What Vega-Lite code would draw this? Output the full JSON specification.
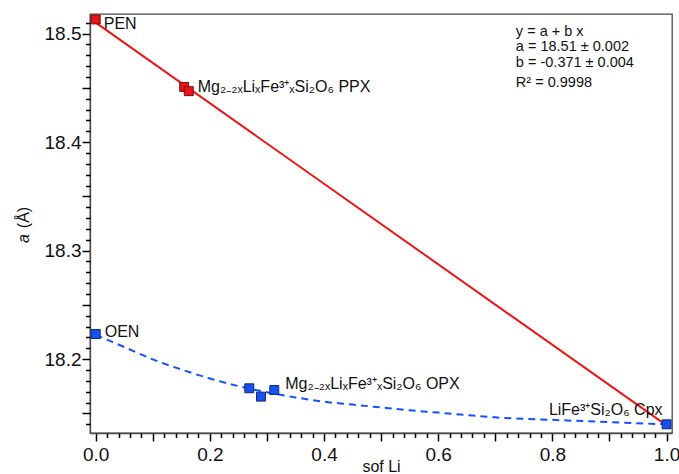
{
  "$schema": "https://vega.github.io/schema/vega-lite/v6.json",
  "width": 582,
  "height": 419,
  "autosize": {"type": "none"},
  "padding": {"left": 90, "top": 14, "right": 7, "bottom": 41},
  "config": {
    "view": {"stroke": "#4a4a4a", "strokeWidth": 1.3},
    "font": "Liberation Sans"
  },
  "datasets": {
    "ppx": [
      {"sof_li": 0.0, "a": 18.513, "phase": "PEN"},
      {"sof_li": 0.155, "a": 18.4508, "phase": "PPX"},
      {"sof_li": 0.163, "a": 18.4469, "phase": "PPX"}
    ],
    "opx": [
      {"sof_li": 0.0, "a": 18.2232, "phase": "OEN"},
      {"sof_li": 0.269, "a": 18.1732, "phase": "OPX"},
      {"sof_li": 0.2895, "a": 18.1655, "phase": "OPX"},
      {"sof_li": 0.3128, "a": 18.1716, "phase": "OPX"},
      {"sof_li": 1.0, "a": 18.14, "phase": "Cpx"}
    ],
    "linear_fit": [
      {"sof_li": 0.0, "a": 18.51},
      {"sof_li": 1.0, "a": 18.139}
    ],
    "opx_trend": [
      {"sof_li": 0.0, "a": 18.2225},
      {"sof_li": 0.025, "a": 18.2168},
      {"sof_li": 0.05, "a": 18.2112},
      {"sof_li": 0.1, "a": 18.1998},
      {"sof_li": 0.15, "a": 18.1905},
      {"sof_li": 0.2, "a": 18.1822},
      {"sof_li": 0.25, "a": 18.1752},
      {"sof_li": 0.3, "a": 18.1695},
      {"sof_li": 0.35, "a": 18.1648},
      {"sof_li": 0.4, "a": 18.1608},
      {"sof_li": 0.45, "a": 18.1582},
      {"sof_li": 0.5, "a": 18.1555},
      {"sof_li": 0.55, "a": 18.1529},
      {"sof_li": 0.6, "a": 18.1508},
      {"sof_li": 0.65, "a": 18.1485},
      {"sof_li": 0.7, "a": 18.1464},
      {"sof_li": 0.8, "a": 18.1441},
      {"sof_li": 0.9, "a": 18.142},
      {"sof_li": 1.0, "a": 18.14}
    ]
  },
  "resolve": {"axis": {"x": "independent", "y": "independent"}},
  "layer": [
    {
      "data": {"name": "linear_fit"},
      "mark": {"type": "line", "color": "#f01414", "strokeWidth": 2},
      "encoding": {
        "x": {
          "field": "sof_li", "type": "quantitative",
          "scale": {"domain": [-0.01, 1.0095], "nice": false, "zero": false},
          "axis": {
            "orient": "bottom",
            "values": [0, 0.2, 0.4, 0.6, 0.8, 1.0],
            "format": ".1f",
            "grid": false,
            "tickSize": 8,
            "tickColor": "black",
            "tickWidth": 1.5,
            "domainColor": "#4a4a4a",
            "domainWidth": 1.3,
            "labelFontSize": 19,
            "labelColor": "#111",
            "labelPadding": 4,
            "title": "sof Li",
            "titleFontSize": 16,
            "titleFontWeight": "normal",
            "titleColor": "#111",
            "titleBaseline": "alphabetic",
            "titleY": 38
          }
        },
        "y": {
          "field": "a", "type": "quantitative",
          "scale": {"domain": [18.132, 18.518], "nice": false, "zero": false},
          "axis": {
            "orient": "left",
            "values": [18.2, 18.3, 18.4, 18.5],
            "format": ".1f",
            "grid": false,
            "tickSize": 8,
            "tickColor": "black",
            "tickWidth": 1.5,
            "domainColor": "#4a4a4a",
            "domainWidth": 1.3,
            "labelFontSize": 19,
            "labelColor": "#111",
            "labelPadding": 1,
            "title": "(Å)",
            "titleFontSize": 16,
            "titleFontWeight": "normal",
            "titleColor": "#111",
            "titleAngle": -90,
            "titleBaseline": "middle",
            "titleX": -67,
            "titleY": 203
          }
        }
      }
    },
    {
      "data": {"name": "opx_trend"},
      "mark": {"type": "line", "color": "#1450ff", "strokeWidth": 2, "strokeDash": [7, 5], "interpolate": "monotone"},
      "encoding": {
        "x": {
          "field": "sof_li", "type": "quantitative",
          "axis": {
            "orient": "bottom",
            "values": [0.1, 0.3, 0.5, 0.7, 0.9],
            "grid": false,
            "tickSize": 8,
            "tickColor": "black",
            "tickWidth": 1.5,
            "labels": false, "domain": false, "title": null
          }
        },
        "y": {
          "field": "a", "type": "quantitative",
          "axis": {
            "orient": "left",
            "values": [18.15, 18.25, 18.35, 18.45],
            "grid": false,
            "tickSize": 8,
            "tickColor": "black",
            "tickWidth": 1.5,
            "labels": false, "domain": false,
            "title": "a",
            "titleFontSize": 16,
            "titleFontStyle": "italic",
            "titleFontWeight": "normal",
            "titleColor": "#111",
            "titleAngle": -90,
            "titleBaseline": "middle",
            "titleX": -67,
            "titleY": 224
          }
        }
      }
    },
    {
      "data": {"name": "opx"},
      "mark": {"type": "square", "size": 80, "filled": true, "color": "#1552f0", "stroke": "#14286e", "strokeWidth": 1, "opacity": 1},
      "encoding": {
        "x": {
          "field": "sof_li", "type": "quantitative",
          "axis": {
            "orient": "bottom",
            "values": [0.02, 0.04, 0.06, 0.08, 0.12, 0.14, 0.16, 0.18, 0.22, 0.24, 0.26, 0.28, 0.32, 0.34, 0.36, 0.38, 0.42, 0.44, 0.46, 0.48, 0.52, 0.54, 0.56, 0.58, 0.62, 0.64, 0.66, 0.68, 0.72, 0.74, 0.76, 0.78, 0.82, 0.84, 0.86, 0.88, 0.92, 0.94, 0.96, 0.98],
            "grid": false,
            "tickSize": 4.5,
            "tickColor": "black",
            "tickWidth": 1.5,
            "labels": false, "domain": false, "title": null
          }
        },
        "y": {
          "field": "a", "type": "quantitative",
          "axis": {
            "orient": "left",
            "values": [18.14, 18.16, 18.17, 18.18, 18.19, 18.21, 18.22, 18.23, 18.24, 18.26, 18.27, 18.28, 18.29, 18.31, 18.32, 18.33, 18.34, 18.36, 18.37, 18.38, 18.39, 18.41, 18.42, 18.43, 18.44, 18.46, 18.47, 18.48, 18.49, 18.51],
            "grid": false,
            "tickSize": 4.5,
            "tickColor": "black",
            "tickWidth": 1.5,
            "labels": false, "domain": false, "title": null
          }
        }
      }
    },
    {
      "data": {"name": "ppx"},
      "mark": {"type": "square", "size": 80, "filled": true, "color": "#e8141a", "stroke": "#7a0c0c", "strokeWidth": 1, "opacity": 1},
      "encoding": {
        "x": {"field": "sof_li", "type": "quantitative", "axis": null},
        "y": {"field": "a", "type": "quantitative", "axis": null}
      }
    },
    {
      "data": {"values": [{"sof_li": 0.0, "a": 18.513, "label": "PEN"}]},
      "mark": {"type": "text", "align": "left", "baseline": "middle", "dx": 8, "dy": 5, "fontSize": 16, "color": "#111"},
      "encoding": {
        "x": {"field": "sof_li", "type": "quantitative", "axis": null},
        "y": {"field": "a", "type": "quantitative", "axis": null},
        "text": {"field": "label"}
      }
    },
    {
      "data": {"values": [{"sof_li": 0.163, "a": 18.4469, "label": "Mg₂₋₂ₓLiₓFe³⁺ₓSi₂O₆  PPX"}]},
      "mark": {"type": "text", "align": "left", "baseline": "middle", "dx": 9, "dy": -4, "fontSize": 16, "color": "#111"},
      "encoding": {
        "x": {"field": "sof_li", "type": "quantitative", "axis": null},
        "y": {"field": "a", "type": "quantitative", "axis": null},
        "text": {"field": "label"}
      }
    },
    {
      "data": {"values": [{"sof_li": 0.0, "a": 18.2232, "label": "OEN"}]},
      "mark": {"type": "text", "align": "left", "baseline": "middle", "dx": 9, "dy": -2.5, "fontSize": 16, "color": "#111"},
      "encoding": {
        "x": {"field": "sof_li", "type": "quantitative", "axis": null},
        "y": {"field": "a", "type": "quantitative", "axis": null},
        "text": {"field": "label"}
      }
    },
    {
      "data": {"values": [{"sof_li": 0.3128, "a": 18.1716, "label": "Mg₂₋₂ₓLiₓFe³⁺ₓSi₂O₆  OPX"}]},
      "mark": {"type": "text", "align": "left", "baseline": "middle", "dx": 11, "dy": -6, "fontSize": 16, "color": "#111"},
      "encoding": {
        "x": {"field": "sof_li", "type": "quantitative", "axis": null},
        "y": {"field": "a", "type": "quantitative", "axis": null},
        "text": {"field": "label"}
      }
    },
    {
      "data": {"values": [{"sof_li": 1.0, "a": 18.14, "label": "LiFe³⁺Si₂O₆ Cpx"}]},
      "mark": {"type": "text", "align": "right", "baseline": "middle", "dx": -4, "dy": -14, "fontSize": 16, "color": "#111"},
      "encoding": {
        "x": {"field": "sof_li", "type": "quantitative", "axis": null},
        "y": {"field": "a", "type": "quantitative", "axis": null},
        "text": {"field": "label"}
      }
    },
    {
      "data": {"values": [{"line": "y = a + b x\na = 18.51 ± 0.002\nb = -0.371 ± 0.004"}]},
      "mark": {"type": "text", "align": "left", "baseline": "top", "fontSize": 14.5, "lineHeight": 15.5, "color": "#111", "lineBreak": "\n"},
      "encoding": {
        "x": {"datum": 0.736, "axis": null},
        "y": {"datum": 18.5079, "axis": null},
        "text": {"field": "line"}
      }
    },
    {
      "data": {"values": [{"line": "R² = 0.9998"}]},
      "mark": {"type": "text", "align": "left", "baseline": "middle", "fontSize": 14.5, "color": "#111"},
      "encoding": {
        "x": {"datum": 0.736, "axis": null},
        "y": {"datum": 18.4545, "axis": null},
        "text": {"field": "line"}
      }
    }
  ]
}
